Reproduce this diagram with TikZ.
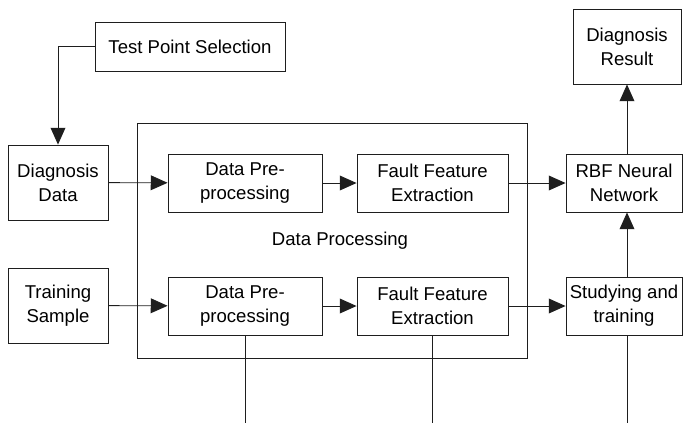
\documentclass[tikz,border=0pt]{standalone}
\usepackage{fontspec}
\setmainfont{Liberation Sans}
\usetikzlibrary{arrows.meta, positioning}
\definecolor{linedark}{RGB}{30, 30, 30}

\begin{document}
\begin{tikzpicture}[
    x=0.025cm, y=-0.025cm,
    block/.style={rectangle, draw=linedark, line width=0.6pt, align=center, inner sep=2pt, font=\fontsize{13.2}{17}\selectfont},
    wideblock/.style={block, minimum width=3.85cm, minimum height=1.45cm},
    tallblock/.style={block, minimum width=2.5cm, minimum height=1.875cm},
    arrow/.style={-{Triangle[length=0.42cm, width=0.37cm]}, line width=0.6pt, color=linedark},
    link/.style={line width=0.6pt, color=linedark},
]
\useasboundingbox (0,0) rectangle (685,423);

% Data processing frame
\node[rectangle, draw=linedark, line width=0.6pt, minimum width=9.75cm, minimum height=5.875cm] (procbox) at (332,240.5) {};
\node[font=\fontsize{13.2}{17}\selectfont] (proclabel) at (340,241) {Data Processing};

% Inputs
\node[block, minimum width=4.75cm, minimum height=1.225cm] (testpoint) at (190,46.5) {Test Point Selection};
\node[tallblock] (diagdata) at (58,182.5) {Diagnosis\\Data};
\node[tallblock] (trainsample) at (58,305.5) {Training\\Sample};

% Processing chain, diagnosis path
\node[wideblock] (prep1) at (245,183) {Data Pre-\\processing};
\node[wideblock, minimum width=3.775cm] (feat1) at (432.5,183) {Fault Feature\\Extraction};

% Processing chain, training path
\node[wideblock] (prep2) at (245,306) {Data Pre-\\processing};
\node[wideblock, minimum width=3.775cm] (feat2) at (432.5,306) {Fault Feature\\Extraction};

% Network side
\node[wideblock, minimum width=2.9cm] (rbf) at (624,183) {RBF Neural\\Network};
\node[wideblock, minimum width=2.9cm] (study) at (624,306) {Studying and\\training};
\node[tallblock, minimum width=2.7cm] (result) at (627,46.5) {Diagnosis\\Result};

\coordinate (base) at (0,423);

% Connections
\draw[arrow] (testpoint.west) -| (diagdata.north);
\draw[arrow] (diagdata) -- (prep1);
\draw[arrow] (prep1) -- (feat1);
\draw[arrow] (feat1) -- (rbf);
\draw[arrow] (trainsample) -- (prep2);
\draw[arrow] (prep2) -- (feat2);
\draw[arrow] (feat2) -- (study);
\draw[arrow] (rbf.north -| result.south) -- (result.south);
\draw[arrow] (study.north -| result.south) -- (rbf.south -| result.south);

% Lines running down out of the frame
\draw[link] (prep2.south) -- (prep2.south |- base);
\draw[link] (feat2.south) -- (feat2.south |- base);
\draw[link] (study.south -| result.south) -- (result.south |- base);

\end{tikzpicture}
\end{document}
